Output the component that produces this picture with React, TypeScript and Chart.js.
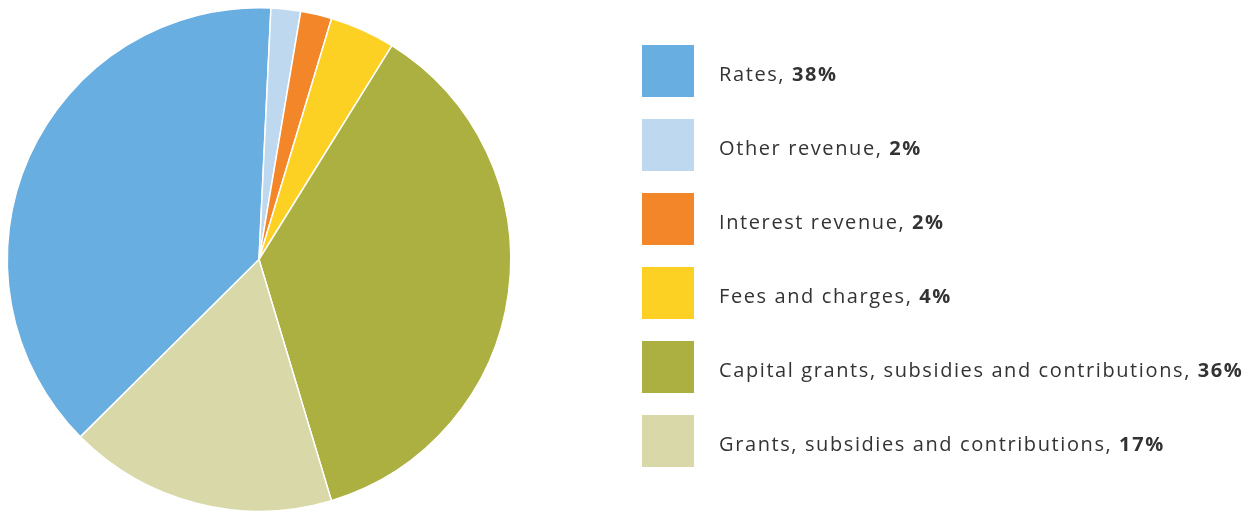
import React, { useEffect, useRef } from "react";
import { Chart, registerables } from "chart.js";

Chart.register(...registerables);

const categories = [
  "Rates",
  "Other revenue",
  "Interest revenue",
  "Fees and charges",
  "Capital grants, subsidies and contributions",
  "Grants, subsidies and contributions",
];
const values = [38.2, 1.9, 2.0, 4.2, 36.5, 17.2];
const percentLabels = ["38%", "2%", "2%", "4%", "36%", "17%"];
const colors = ["#69AEE0", "#BED8EF", "#F4862A", "#FDD124", "#ABB040", "#D8D8A8"];

export default function App() {
  const ref = useRef<HTMLCanvasElement | null>(null);
  useEffect(() => {
    document.body.style.margin = "0";
    const chart = new Chart(ref.current!, {
      type: "pie",
      data: {
        labels: categories,
        datasets: [
          {
            data: values,
            backgroundColor: colors,
            borderColor: "#ffffff",
            borderWidth: 1.5,
          },
        ],
      },
      options: {
        animation: false,
        responsive: false,
        rotation: 225.2,
        layout: { padding: { left: 6, top: 7, right: 743, bottom: 0 } },
        plugins: { legend: { display: false }, tooltip: { enabled: false } },
      },
    });
    return () => chart.destroy();
  }, []);
  return (
    <div style={{ position: "relative", width: 1255, height: 512, background: "#fff" }}>
      <canvas ref={ref} width={1255} height={512} style={{ position: "absolute", left: 0, top: 0 }} />
      <div style={{ position: "absolute", left: 642, top: 45 }}>
        {categories.map((c, i) => (
          <div key={c} style={{ display: "flex", alignItems: "center", height: 52, marginBottom: 22 }}>
            <div style={{ width: 52, height: 52, background: colors[i], flex: "none" }} />
            <div
              style={{
                marginLeft: 25,
                marginTop: 4,
                fontFamily: "'Open Sans', sans-serif",
                fontSize: 20,
                color: "#333333",
                whiteSpace: "nowrap",
                letterSpacing: 1.6,
              }}
            >
              {c}, <b>{percentLabels[i]}</b>
            </div>
          </div>
        ))}
      </div>
    </div>
  );
}
